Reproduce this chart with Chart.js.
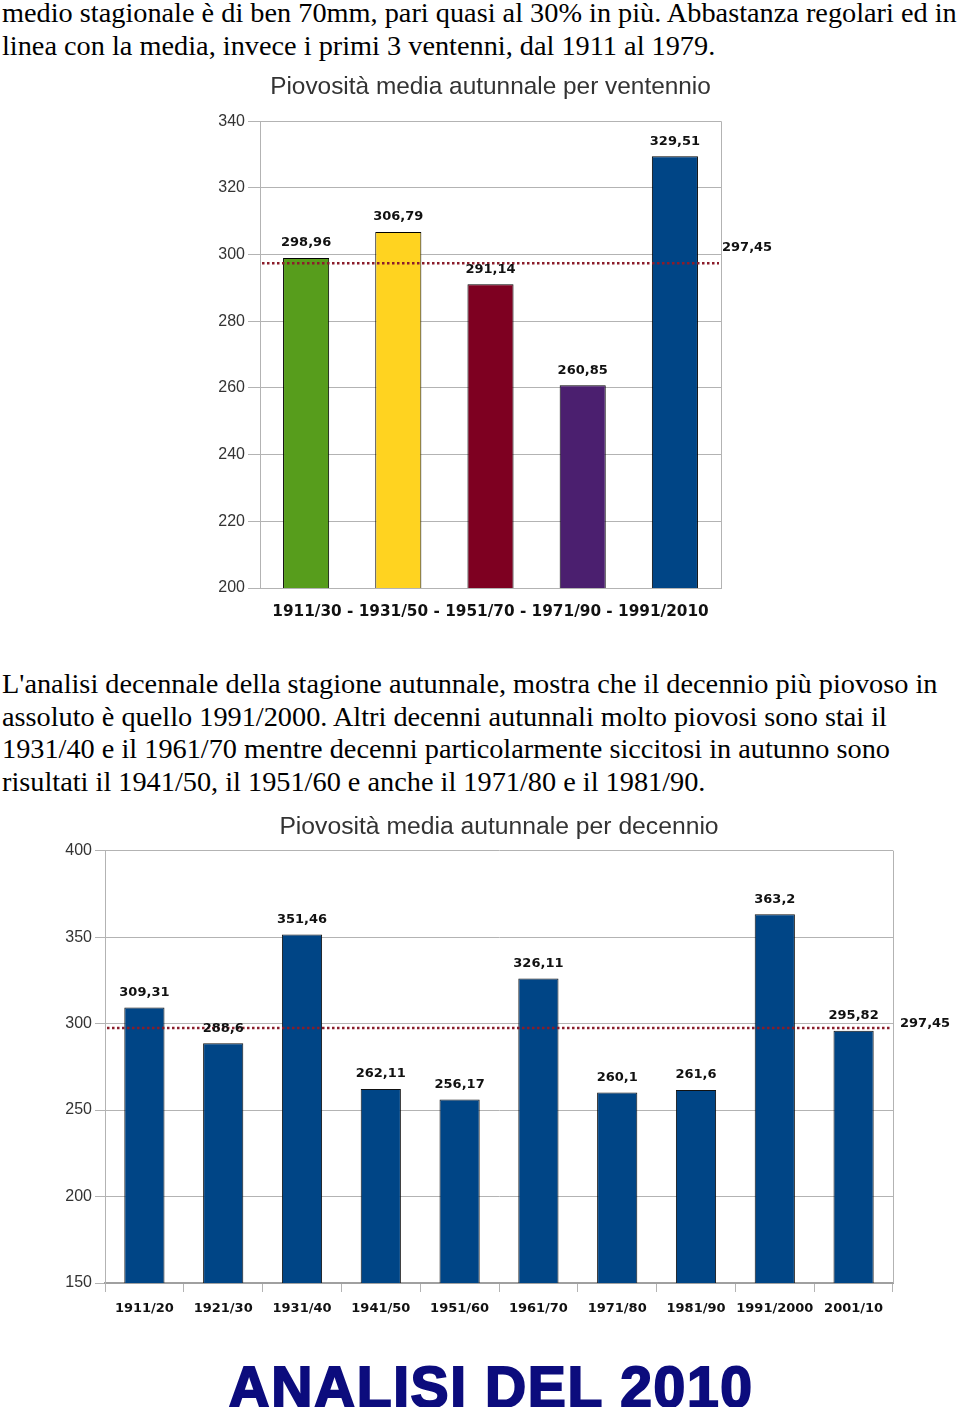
<!DOCTYPE html>
<html>
<head>
<meta charset="utf-8">
<script src="https://cdn.jsdelivr.net/npm/chart.js@4.4.0/dist/chart.umd.min.js"></script>
<style>
  html, body { margin: 0; padding: 0; background: #fff; }
  body { width: 960px; height: 1407px; position: relative; overflow: hidden; }
  .t { position: absolute; left: 2px; font-family: "Liberation Serif", "Times New Roman", serif;
       font-size: 28.3px; line-height: 33px; color: #000; white-space: nowrap; }
  canvas { position: absolute; }
  #head { position: absolute; left: 11px; width: 960px; top: 1352px; text-align: center;
          font-family: "Liberation Sans", Arial, sans-serif; font-weight: bold; font-size: 57px;
          letter-spacing: 1.6px; line-height: 70px; color: #0c0c7d; -webkit-text-stroke: 2px #0c0c7d; }
</style>
</head>
<body>
<div class="t" style="top:-4px">medio stagionale è di ben 70mm, pari quasi al 30% in più. Abbastanza regolari ed in</div>
<div class="t" style="top:29px">linea con la media, invece i primi 3 ventenni, dal 1911 al 1979.</div>

<canvas id="ventenni" width="576" height="560" style="left:200px;top:70px"></canvas>

<div class="t" style="top:667px">L'analisi decennale della stagione autunnale, mostra che il decennio più piovoso in</div>
<div class="t" style="top:700px">assoluto è quello 1991/2000. Altri decenni autunnali molto piovosi sono stai il</div>
<div class="t" style="top:732px">1931/40 e il 1961/70 mentre decenni particolarmente siccitosi in autunno sono</div>
<div class="t" style="top:765px">risultati il 1941/50, il 1951/60 e anche il 1971/80 e il 1981/90.</div>

<canvas id="decenni" width="900" height="520" style="left:50px;top:810px"></canvas>

<div id="head">ANALISI DEL 2010</div>

<script>
// piovosità media autunnale per ventennio
var ventenniLabels = ['1911/30', '1931/50', '1951/70', '1971/90', '1991/2010'];
var ventenniValues = [298.96, 306.79, 291.14, 260.85, 329.51];
var ventenniColors = ['#579d1c', '#ffd320', '#7e0021', '#4b1f6f', '#004586'];
var ventenniMean = 297.45;
var ventenniMin = 200, ventenniMax = 340, ventenniStep = 20;

// piovosità media autunnale per decennio
var decenniLabels = ['1911/20', '1921/30', '1931/40', '1941/50', '1951/60', '1961/70', '1971/80', '1981/90', '1991/2000', '2001/10'];
var decenniValues = [309.31, 288.6, 351.46, 262.11, 256.17, 326.11, 260.1, 261.6, 363.2, 295.82];
var decenniMean = 297.45;
var decenniMin = 150, decenniMax = 400, decenniStep = 50;

function fmt(v) { return String(v).replace('.', ','); }

// valori sopra le barre + linea della media
var barLabels = {
    id: 'barLabels',
    beforeDatasetsDraw: function(chart) {
        var a = chart.chartArea, ctx = chart.ctx;
        ctx.save();
        ctx.strokeStyle = '#b3b3b3';
        ctx.lineWidth = 1;
        ctx.beginPath();
        ctx.moveTo(Math.round(a.right) + 0.5, a.top);
        ctx.lineTo(Math.round(a.right) + 0.5, a.bottom);
        ctx.stroke();
        ctx.restore();
    },
    afterDatasetsDraw: function(chart, args, opts) {
        var ctx = chart.ctx;
        var a = chart.chartArea;
        var meta = chart.getDatasetMeta(0);
        var vals = chart.data.datasets[0].data;
        ctx.save();
        var y = chart.scales.y.getPixelForValue(opts.mean);
        ctx.strokeStyle = '#8a1c2a';
        ctx.lineWidth = 2.5;
        ctx.setLineDash([2.5, 2.5]);
        ctx.beginPath();
        ctx.moveTo(a.left + 2, y);
        ctx.lineTo(a.right - 2, y);
        ctx.stroke();
        ctx.setLineDash([]);

        ctx.font = 'bold 13px "DejaVu Sans"';
        ctx.fillStyle = '#111';
        ctx.textAlign = 'center';
        ctx.textBaseline = 'middle';
        for (var i = 0; i < meta.data.length; i++) {
            ctx.fillText(fmt(vals[i]), meta.data[i].x, meta.data[i].y - 15);
        }
        ctx.textAlign = 'left';
        ctx.fillText(fmt(opts.mean), a.right + opts.dx, y + opts.dy);
        ctx.restore();
    }
};

function fixWidth(w) { return function(s) { s.width = w; }; }
function fixHeight(h) { return function(s) { s.height = h; }; }

new Chart(document.getElementById('ventenni').getContext('2d'), {
    type: 'bar',
    data: {
        labels: ventenniLabels,
        datasets: [{
            data: ventenniValues,
            backgroundColor: ventenniColors,
            borderColor: '#000',
            borderWidth: 1,
            barPercentage: 0.5,
            categoryPercentage: 1
        }]
    },
    options: {
        responsive: false,
        animation: false,
        devicePixelRatio: 1,
        layout: { padding: { left: 0, right: 55, top: 0, bottom: 0 } },
        plugins: {
            legend: { display: false },
            tooltip: { enabled: false },
            title: {
                display: true,
                fullSize: false,
                text: 'Piovosità media autunnale per ventennio',
                color: '#333',
                font: { family: 'Liberation Sans', size: 24.4, weight: 'normal' },
                padding: { top: 3, bottom: 19 }
            },
            barLabels: { mean: ventenniMean, dx: 1, dy: -16 }
        },
        scales: {
            x: {
                afterFit: fixHeight(42),
                grid: { display: false },
                border: { color: '#b3b3b3' },
                ticks: { display: false },
                title: {
                    display: true,
                    text: ventenniLabels.join(' - '),
                    color: '#111',
                    font: { family: 'DejaVu Sans', size: 15.3, weight: 'bold' },
                    padding: { top: 0, bottom: 9 }
                }
            },
            y: {
                min: ventenniMin,
                max: ventenniMax,
                afterFit: fixWidth(60),
                grid: { color: '#b3b3b3', tickLength: 12 },
                border: { color: '#b3b3b3' },
                ticks: {
                    stepSize: ventenniStep,
                    padding: 3,
                    color: '#333',
                    font: { family: 'Liberation Sans', size: 16 }
                }
            }
        }
    },
    plugins: [barLabels]
});

new Chart(document.getElementById('decenni').getContext('2d'), {
    type: 'bar',
    data: {
        labels: decenniLabels,
        datasets: [{
            data: decenniValues,
            backgroundColor: '#004586',
            borderColor: '#111',
            borderWidth: 1,
            barPercentage: 0.51,
            categoryPercentage: 1
        }]
    },
    options: {
        responsive: false,
        animation: false,
        devicePixelRatio: 1,
        layout: { padding: { left: 0, right: 57, top: 0, bottom: 0 } },
        plugins: {
            legend: { display: false },
            tooltip: { enabled: false },
            title: {
                display: true,
                fullSize: false,
                text: 'Piovosità media autunnale per decennio',
                color: '#333',
                font: { family: 'Liberation Sans', size: 24.7, weight: 'normal' },
                padding: { top: 2, bottom: 9 }
            },
            barLabels: { mean: decenniMean, dx: 7, dy: -4 }
        },
        scales: {
            x: {
                afterFit: fixHeight(47),
                grid: { drawOnChartArea: false, drawTicks: true, tickLength: 9, color: '#b3b3b3', offset: true },
                border: { color: '#a0a0a0', width: 2 },
                ticks: {
                    padding: 9,
                    color: '#111',
                    maxRotation: 0,
                    autoSkip: false,
                    font: { family: 'DejaVu Sans', size: 13, weight: 'bold' }
                }
            },
            y: {
                min: decenniMin,
                max: decenniMax,
                afterFit: fixWidth(55),
                grid: { color: '#b3b3b3', tickLength: 10 },
                border: { color: '#b3b3b3' },
                ticks: {
                    stepSize: decenniStep,
                    padding: 3,
                    color: '#333',
                    font: { family: 'Liberation Sans', size: 16 }
                }
            }
        }
    },
    plugins: [barLabels]
});
</script>
</body>
</html>
